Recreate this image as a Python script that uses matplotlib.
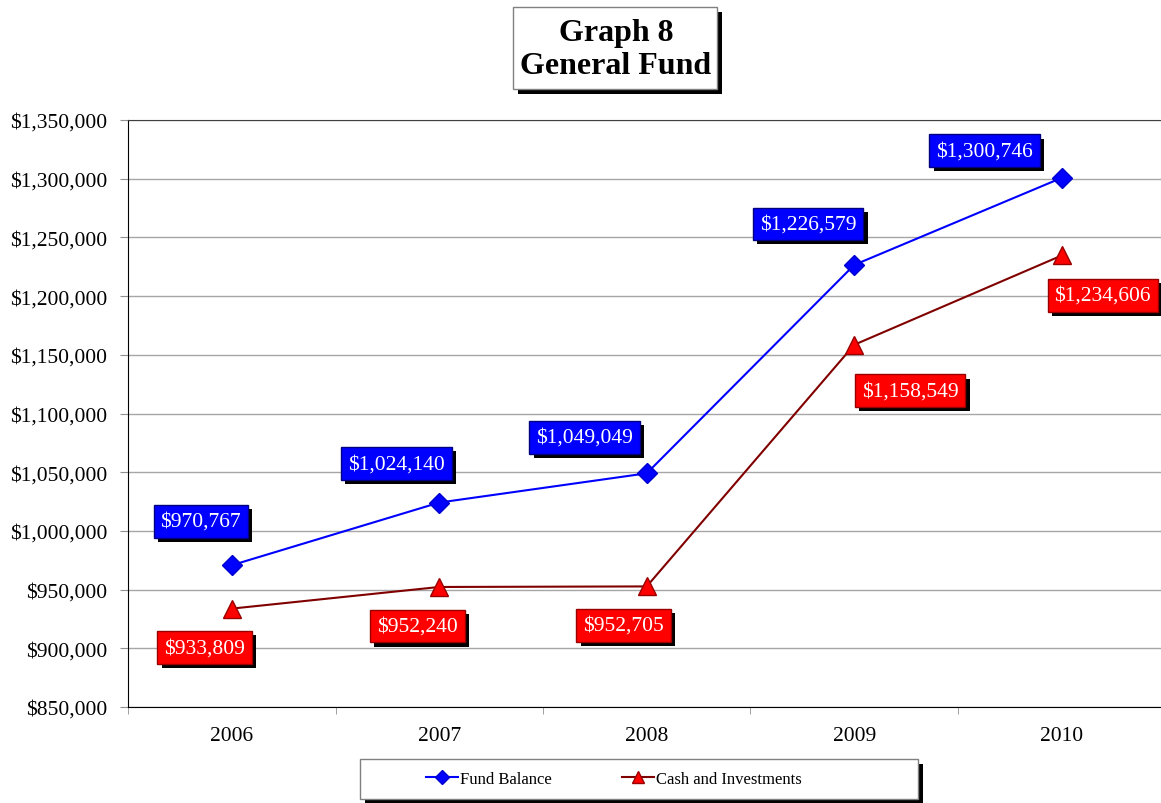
import matplotlib
matplotlib.use('Agg')
import matplotlib.pyplot as plt
import matplotlib.patheffects as pe
from matplotlib.patches import Rectangle
from matplotlib.ticker import FuncFormatter, MultipleLocator, FixedLocator

### Data #######################################################################
years = ['2006', '2007', '2008', '2009', '2010']
fund_balance = [970767, 1024140, 1049049, 1226579, 1300746]
cash_investments = [933809, 952240, 952705, 1158549, 1234606]

# label offsets in pixels (dx, dy) from each point
fund_offsets = [(-31, 44), (-43, 39), (-62, 36), (-46, 41), (-77, 27)]
cash_offsets = [(-27, -39), (-22, -39), (-23, -39), (56, -46), (41, -40)]
################################################################################

plt.rcParams['font.family'] = ['Liberation Serif', 'DejaVu Serif']

W, H = 1161, 804
fig = plt.figure(figsize=(W / 100, H / 100), dpi=100)
ax = fig.add_axes([128 / W, (H - 708) / H, 1 - 128 / W, (708 - 121) / H])

x = list(range(len(years)))
ax.plot(x, fund_balance, color='#0000ff', lw=1.5, marker='D', ms=10,
        mfc='#0000ff', mec='#0000cc', label='Fund Balance', zorder=3)
ax.plot(x, cash_investments, color='#800000', lw=1.5, marker='^', ms=13,
        mfc='#ff0000', mec='#990000', label='Cash and Investments', zorder=3)

ax.set_xlim(-0.5, -0.5 + (W - 128) / 207.5)
ax.set_ylim(850000, 1350000)
ax.yaxis.set_major_locator(MultipleLocator(50000))
ax.yaxis.set_major_formatter(FuncFormatter(lambda v, p: '${:,.0f}'.format(v)))
ax.set_xticks(x)
ax.set_xticklabels(years)
ax.xaxis.set_minor_locator(FixedLocator([-0.5, 0.5, 1.5, 2.5, 3.5, 4.5]))
ax.tick_params(axis='x', which='major', length=0, pad=14, labelsize=15.5)
ax.tick_params(axis='x', which='minor', length=5, color='#909090', direction='out')
ax.tick_params(axis='y', length=6, color='#909090', pad=9, labelsize=15.5)
ax.grid(axis='y', color='#a6a6a6', lw=1)
ax.set_axisbelow(True)
ax.spines['left'].set_color('black')
ax.spines['bottom'].set_color('black')
ax.spines['top'].set_color('#404040')
ax.spines['right'].set_visible(False)


def value_label(xi, yi, offset, face, edge):
    t = ax.annotate('${:,.0f}'.format(yi), (xi, yi), xytext=offset,
                    textcoords='offset pixels', ha='center', va='center',
                    color='white', fontsize=15.5, zorder=5,
                    bbox=dict(boxstyle='square,pad=0.32', fc=face, ec=edge, lw=1))
    t.get_bbox_patch().set_path_effects([
        pe.SimplePatchShadow(offset=(3, -3), shadow_rgbFace='black', alpha=1),
        pe.Normal()])


for i in x:
    value_label(i, fund_balance[i], fund_offsets[i], '#0000ff', '#000080')
    value_label(i, cash_investments[i], cash_offsets[i], '#ff0000', '#990000')

# title box
sh = 5
fig.patches.append(Rectangle(((513 + sh) / W, (H - 90 - sh) / H), 204 / W, 82 / H,
                             transform=fig.transFigure, fc='black', ec='none'))
fig.patches.append(Rectangle((513 / W, (H - 90) / H), 204 / W, 82 / H,
                             transform=fig.transFigure, fc='white', ec='#808080', lw=1))
fig.text(616 / W, (H - 50) / H, 'Graph 8\nGeneral Fund', ha='center', va='center',
         fontsize=23, fontweight='bold', linespacing=1.2)

# legend box
fig.patches.append(Rectangle(((360 + sh) / W, (H - 800 - sh) / H), 558 / W, 40 / H,
                             transform=fig.transFigure, fc='black', ec='none'))
fig.patches.append(Rectangle((360 / W, (H - 800) / H), 558 / W, 40 / H,
                             transform=fig.transFigure, fc='white', ec='#808080', lw=1))
fig.legend(loc='center', bbox_to_anchor=(614 / W, (H - 780) / H), ncol=2,
           frameon=False, fontsize=12, handlelength=1.9, handletextpad=0.15,
           columnspacing=4.2, markerscale=0.7)

fig.savefig('out.png', dpi=100)
